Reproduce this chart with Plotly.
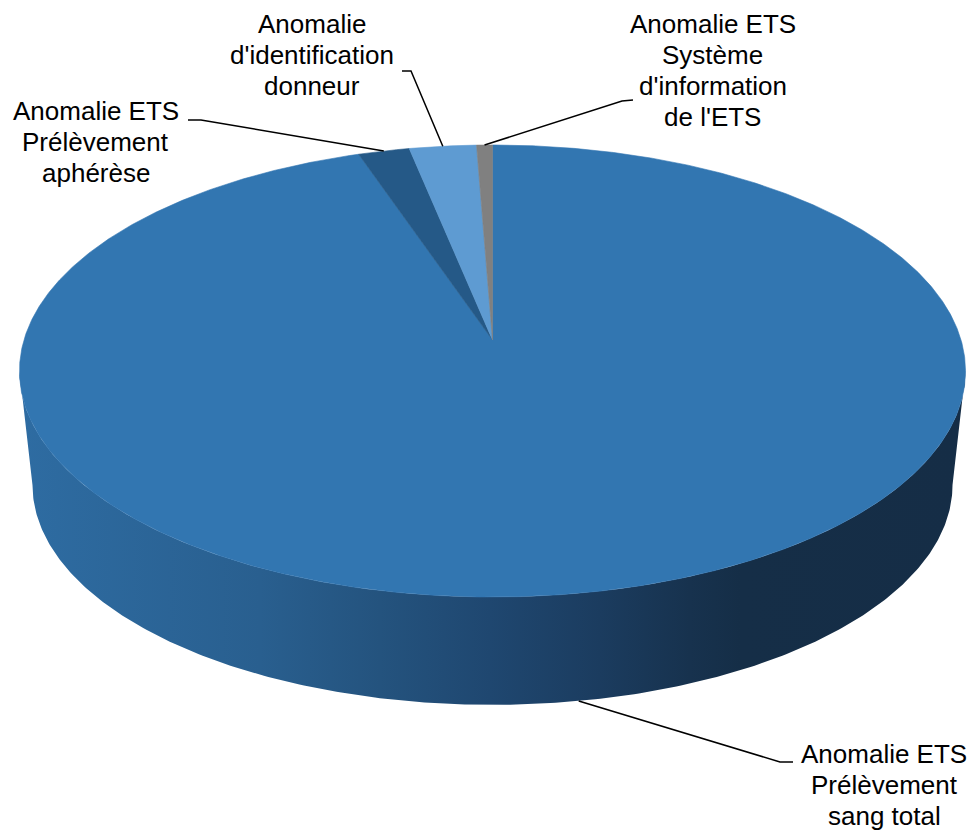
import numpy as np
import plotly.graph_objects as go

# ---------------- data ----------------
categories = [
    "Anomalie ETS Prélèvement sang total",
    "Anomalie ETS Prélèvement aphérèse",
    "Anomalie d'identification donneur",
    "Anomalie ETS Système d'information de l'ETS",
]
values = [616, 13, 17, 4]
label_lines = [
    ["Anomalie ETS", "Prélèvement", "sang total"],
    ["Anomalie ETS", "Prélèvement", "aphérèse"],
    ["Anomalie", "d'identification", "donneur"],
    ["Anomalie ETS", "Système", "d'information", "de l'ETS"],
]
slice_colors = ["#3276B1", "#255987", "#5E9BD2", "#808080"]

# ---------------- 3D projection (style / geometry) ----------------
W, H = 973, 830
CX, CY = 492.5, 340.0          # projected pie centre (apex)
F, D = 3008.6, 6.421           # perspective focal / distance
CE, SE = 0.8809, 0.4733        # cos / sin of elevation
YT0, YB0, K = 371.0, 485.0, 0.9725   # top-ellipse centre, bottom-ellipse centre, bottom scale


def rim_top(theta_deg):
    t = np.radians(theta_deg)
    X, Y = np.sin(t), np.cos(t)
    d = D + CE * Y
    return CX + F * X / d, CY - F * SE * Y / d


def rim_bottom(theta_deg):
    x, y = rim_top(theta_deg)
    return CX + (x - CX) * K, YB0 + (y - YT0) * K


total = float(sum(values))
angles = [v / total * 360.0 for v in values]
starts = np.concatenate([[0.0], np.cumsum(angles)[:-1]])

fig = go.Figure()

# side of the cylinder (front half, visible part)
th_r = np.degrees(np.arccos(-CE / D))
th_l = 360.0 - th_r
ths = np.linspace(th_r, th_l, 300)
xt, yt = rim_top(ths)
xb, yb = rim_bottom(ths[::-1])
side_x = np.concatenate([xt, xb, xt[:1]])
side_y = np.concatenate([yt, yb, yt[:1]])
x0, x1 = float(side_x.min()), float(side_x.max())


def pos(px):
    return (px - x0) / (x1 - x0)


side_scale = [
    [0.0, "#2E6CA2"],
    [pos(260), "#295F8F"],
    [pos(380), "#24537E"],
    [pos(490), "#1F4770"],
    [pos(600), "#1B3C5F"],
    [pos(690), "#17324E"],
    [pos(740), "#152E47"],
    [1.0, "#152D46"],
]
fig.add_trace(go.Scatter(
    x=side_x, y=side_y, mode="lines", fill="toself",
    line=dict(width=0, color="#1F4770"),
    fillgradient=dict(type="horizontal", colorscale=side_scale, start=x0, stop=x1),
    hoverinfo="skip", showlegend=False,
))

# top faces of slices
for i, (cat, a0, a) in enumerate(zip(categories, starts, angles)):
    n = max(int(a * 3), 8)
    th = np.linspace(a0, a0 + a, n)
    rx, ry = rim_top(th)
    px = np.concatenate([[CX], rx, [CX]])
    py = np.concatenate([[CY], ry, [CY]])
    fig.add_trace(go.Scatter(
        x=px, y=py, mode="lines", fill="toself",
        fillcolor=slice_colors[i],
        line=dict(width=0.6, color=slice_colors[i]),
        name=cat, hoverinfo="name", showlegend=False,
    ))

# leader lines: label-side elbow points (layout), slice-side end from data
label_elbows = [
    [(793, 762), (780, 762)],
    [(188, 120), (201, 120)],
    [(402, 71), (411, 71)],
    [(633, 100), (622, 101)],
]
for i, (a0, a) in enumerate(zip(starts, angles)):
    mid = a0 + a / 2.0
    if i == 0:
        ex, ey = rim_bottom(mid)
    else:
        ex, ey = rim_top(mid)
    pts = label_elbows[i] + [(float(ex), float(ey))]
    fig.add_trace(go.Scatter(
        x=[p[0] for p in pts], y=[p[1] for p in pts], mode="lines",
        line=dict(color="black", width=1.5),
        hoverinfo="skip", showlegend=False,
    ))

# labels (one annotation per line, centred)
label_centers = [884, 95.5, 311.5, 712.5]
label_first_baseline = [763, 120, 33, 33]
LINE_GAP = 30.8
FS = 26
for i, lines in enumerate(label_lines):
    for j, txt in enumerate(lines):
        base = label_first_baseline[i] + j * LINE_GAP
        fig.add_annotation(
            x=label_centers[i], y=base - 0.33 * FS, xref="x", yref="y",
            text=txt, showarrow=False, xanchor="center", yanchor="middle",
            font=dict(family="Arial, 'Liberation Sans', sans-serif", size=FS, color="black"),
        )

fig.update_layout(
    width=W, height=H, autosize=False,
    margin=dict(l=0, r=0, t=0, b=0, pad=0),
    paper_bgcolor="white", plot_bgcolor="white",
    xaxis=dict(range=[0, W], visible=False, fixedrange=True),
    yaxis=dict(range=[H, 0], visible=False, fixedrange=True),
    showlegend=False,
)

fig.write_html("out.html")
